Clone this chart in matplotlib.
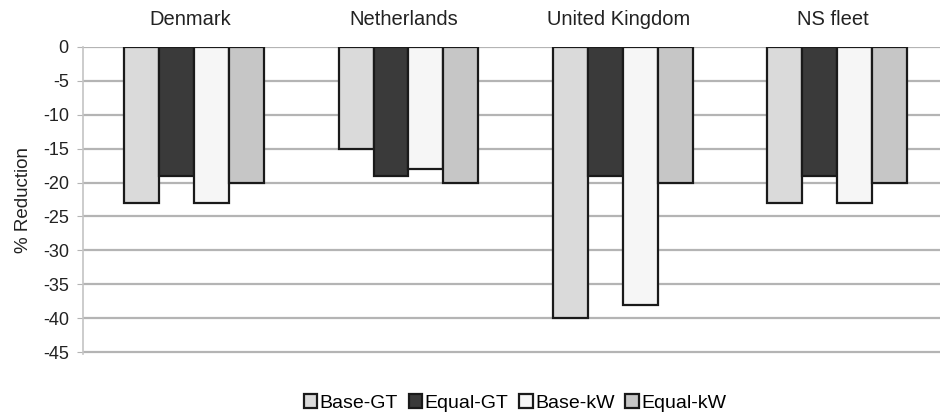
import matplotlib.pyplot as plt
import numpy as np

plt.rcParams['font.family'] = ['Liberation Sans', 'DejaVu Sans']

countries = ['Denmark', 'Netherlands', 'United Kingdom', 'NS fleet']
series = ['Base-GT', 'Equal-GT', 'Base-kW', 'Equal-kW']

base_gt = [-23, -15, -40, -23]
equal_gt = [-19, -19, -19, -19]
base_kw = [-23, -18, -38, -23]
equal_kw = [-20, -20, -20, -20]

yticks = [0, -5, -10, -15, -20, -25, -30, -35, -40, -45]

colors = ['#dadada', '#3a3a3a', '#f6f6f6', '#c6c6c6']

fig = plt.figure(figsize=(9.4, 4.19), dpi=100)
ax = fig.add_axes([0.088, 0.155, 0.912, 0.733])

x = np.arange(len(countries))
width = 0.163
for i, (name, vals) in enumerate(zip(series, [base_gt, equal_gt, base_kw, equal_kw])):
    ax.bar(x + (i - 1.5) * width + 0.02, vals, width, color=colors[i],
           edgecolor='#1a1a1a', linewidth=1.6, label=name, zorder=3)

ax.set_xlim(-0.5, len(countries) - 0.5)
ax.set_ylim(-45.3, 0)
ax.set_yticks(yticks)
ax.set_yticklabels([str(t) for t in yticks], fontsize=13, color='#222222')
ax.yaxis.grid(True, color='#b4b4b4', linewidth=1.6, zorder=0)

ax.xaxis.tick_top()
ax.set_xticks(x)
ax.set_xticklabels(countries, fontsize=14.5, color='#222222')
ax.tick_params(axis='x', length=0, pad=13)
ax.tick_params(axis='y', length=4, color='#b4b4b4', pad=6)

for side in ['top', 'right', 'bottom']:
    ax.spines[side].set_visible(False)
ax.spines['left'].set_color('#c4c4c4')
ax.spines['left'].set_linewidth(1.2)

ax.set_ylabel('% Reduction', fontsize=13.5, color='#222222', labelpad=8)

fig.legend(loc='lower center', bbox_to_anchor=(0.548, -0.025), ncol=4, frameon=False,
           fontsize=14, handlelength=0.7, handleheight=0.7, handletextpad=0.12,
           columnspacing=0.55)

fig.savefig('out.png', dpi=100)
